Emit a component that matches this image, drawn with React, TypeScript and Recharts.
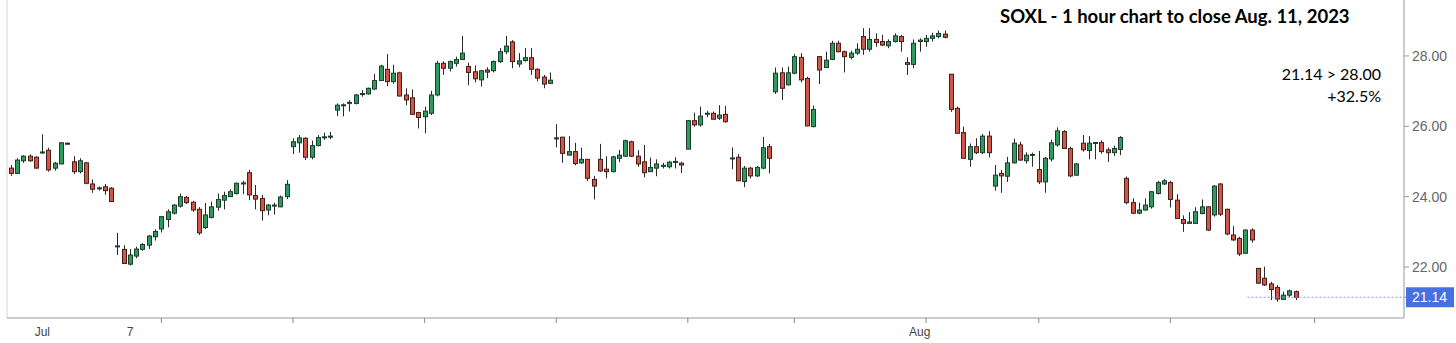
import React from 'react';
import { ComposedChart, Bar, XAxis, YAxis, ReferenceLine } from 'recharts';

// hourly candles, SOXL, end of June to Aug 11 2023
const open = [
  24.81, 24.66, 25.02, 25.15, 25.12, 25.25, 25.32, 24.81, 24.93, 25.52,
  24.99, 24.71, 24.96, 24.36, 24.23, 24.28, 24.24, 22.58, 22.5, 22.08,
  22.31, 22.5, 22.62, 22.86, 23.08, 23.35, 23.53, 23.73, 23.98, 23.84,
  23.64, 23.12, 23.41, 23.7, 23.9, 24.0, 24.09, 24.37, 24.68, 24.03,
  23.95, 23.62, 23.74, 23.71, 24.0, 25.42, 25.53, 25.66, 25.12, 25.45,
  25.68, 25.69, 26.46, 26.6, 26.66, 26.65, 26.91, 26.92, 27.06, 27.3,
  27.62, 27.27, 27.52, 26.89, 26.81, 26.39, 26.27, 26.37, 26.89, 27.79,
  27.65, 27.79, 27.9, 27.7, 27.55, 27.32, 27.6, 27.58, 27.84, 28.12,
  28.4, 27.77, 27.87, 27.95, 27.62, 27.4, 27.22, 25.65, 25.69, 25.18,
  25.28, 24.96, 25.06, 24.49, 25.06, 24.78, 24.71, 25.09, 25.15, 25.56,
  25.15, 24.99, 24.71, 24.81, 24.87, 24.85, 24.99, 24.95, 25.35, 26.16,
  26.04, 26.36, 26.37, 26.23, 26.34, 25.08, 25.12, 24.43, 24.81, 24.59,
  24.81, 25.42, 26.98, 27.52, 27.18, 27.51, 27.96, 27.36, 25.99, 27.98,
  27.67, 27.9, 28.36, 28.12, 27.96, 28.08, 28.55, 28.19, 28.47, 28.41,
  28.29, 28.41, 28.55, 27.81, 27.76, 28.41, 28.41, 28.5, 28.55, 28.62,
  27.48, 26.51, 25.82, 25.06, 25.42, 25.25, 25.72, 24.3, 24.66, 24.58,
  24.96, 25.47, 25.02, 25.19, 24.77, 24.42, 25.07, 25.47, 25.85, 25.37,
  24.61, 25.52, 25.31, 25.52, 25.54, 25.33, 25.25, 25.34, 24.52, 23.83,
  23.53, 23.62, 23.71, 24.09, 24.36, 24.4, 23.9, 23.35, 23.24, 23.24,
  23.52, 23.71, 23.48, 24.36, 23.64, 22.91, 22.81, 22.39, 23.05, 21.96,
  21.68, 21.52, 21.42, 21.08, 21.2, 21.3,
];
const high = [
  24.9, 25.09, 25.18, 25.2, 25.15, 25.77, 25.39, 24.99, 25.55, 25.53,
  25.15, 25.09, 24.99, 24.49, 24.29, 24.36, 24.27, 22.97, 22.62, 22.51,
  22.58, 22.68, 22.91, 23.07, 23.45, 23.64, 23.79, 24.09, 24.02, 23.88,
  23.7, 23.82, 23.86, 24.09, 24.14, 24.21, 24.4, 24.45, 24.76, 24.33,
  24.05, 23.79, 23.83, 24.03, 24.47, 25.66, 25.75, 25.69, 25.59, 25.75,
  25.82, 25.84, 26.65, 26.65, 26.74, 26.92, 27.03, 27.1, 27.49, 27.75,
  28.05, 27.75, 27.55, 27.08, 27.05, 26.41, 26.56, 27.01, 27.86, 27.85,
  27.87, 27.98, 28.57, 27.81, 27.73, 27.6, 27.68, 27.87, 28.22, 28.57,
  28.45, 28.08, 28.22, 28.22, 27.65, 27.46, 27.53, 26.06, 25.7, 25.72,
  25.53, 25.39, 25.06, 24.59, 25.5, 25.15, 25.16, 25.33, 25.62, 25.59,
  25.32, 25.47, 25.11, 25.06, 24.96, 25.02, 25.12, 24.99, 26.18, 26.39,
  26.56, 26.44, 26.42, 26.6, 26.58, 25.4, 25.21, 24.87, 24.85, 24.87,
  25.7, 25.5, 27.67, 27.67, 27.7, 28.05, 28.08, 27.41, 26.59, 28.0,
  28.12, 28.43, 28.43, 28.15, 28.15, 28.36, 28.79, 28.79, 28.64, 28.6,
  28.47, 28.64, 28.6, 27.96, 28.47, 28.5, 28.6, 28.66, 28.72, 28.72,
  27.48, 26.56, 25.99, 25.51, 25.66, 25.78, 25.86, 24.9, 24.76, 25.13,
  25.65, 25.56, 25.26, 25.25, 25.3, 25.13, 25.62, 25.97, 25.89, 25.42,
  24.96, 25.75, 25.72, 25.55, 25.6, 25.4, 25.45, 25.72, 24.57, 23.95,
  23.83, 23.95, 24.16, 24.45, 24.5, 24.45, 24.07, 23.47, 23.56, 23.7,
  23.92, 23.73, 24.33, 24.38, 23.66, 23.16, 22.86, 23.07, 23.1, 21.96,
  22.01, 21.58, 21.49, 21.3, 21.36, 21.33,
];
const low = [
  24.59, 24.64, 24.96, 24.99, 24.8, 25.22, 24.71, 24.74, 24.92, 25.49,
  24.64, 24.66, 24.35, 24.11, 24.17, 24.05, 23.85, 22.34, 22.1, 22.04,
  22.25, 22.46, 22.51, 22.75, 22.98, 23.13, 23.49, 23.69, 23.79, 23.57,
  22.91, 23.08, 23.38, 23.6, 23.64, 23.99, 24.06, 24.07, 23.9, 23.64,
  23.32, 23.47, 23.49, 23.7, 23.93, 25.21, 25.25, 25.04, 25.06, 25.43,
  25.61, 25.63, 26.29, 26.28, 26.42, 26.62, 26.84, 26.9, 27.03, 27.29,
  27.14, 27.21, 26.85, 26.6, 26.33, 25.94, 25.8, 26.32, 26.85, 27.46,
  27.56, 27.7, 27.88, 27.17, 27.25, 27.13, 27.37, 27.53, 27.8, 28.05,
  27.65, 27.68, 27.84, 27.46, 27.28, 27.08, 27.2, 25.4, 24.96, 25.18,
  24.89, 24.93, 24.44, 23.92, 24.71, 24.52, 24.69, 24.98, 25.13, 25.13,
  24.85, 24.55, 24.7, 24.58, 24.8, 24.8, 24.8, 24.67, 25.35, 25.99,
  25.99, 26.26, 26.2, 26.18, 26.1, 24.78, 24.45, 24.27, 24.52, 24.56,
  24.78, 24.66, 26.92, 26.75, 27.16, 27.48, 27.25, 26.0, 25.97, 27.2,
  27.66, 27.88, 28.1, 27.53, 27.9, 28.03, 28.03, 28.12, 28.26, 28.28,
  28.22, 28.38, 28.12, 27.46, 27.65, 28.12, 28.26, 28.41, 28.5, 28.5,
  26.41, 25.8, 25.09, 24.85, 25.21, 25.21, 25.12, 24.17, 24.11, 24.42,
  24.94, 25.02, 24.94, 24.85, 24.36, 24.11, 25.0, 25.42, 25.37, 24.55,
  24.6, 25.28, 25.06, 25.06, 25.22, 24.99, 25.15, 25.18, 23.78, 23.5,
  23.5, 23.6, 23.66, 24.06, 24.33, 23.69, 23.36, 23.0, 23.24, 23.22,
  23.5, 23.02, 23.43, 23.45, 22.9, 22.74, 22.31, 22.39, 22.69, 21.52,
  21.46, 21.06, 21.01, 21.06, 21.14, 21.06,
];
const close = [
  24.66, 25.04, 25.15, 25.02, 24.81, 25.27, 24.76, 24.95, 25.53, 25.49,
  24.71, 25.02, 24.38, 24.21, 24.25, 24.17, 23.86, 22.6, 22.1, 22.34,
  22.51, 22.64, 22.88, 23.01, 23.43, 23.57, 23.76, 24.0, 23.83, 23.62,
  22.97, 23.48, 23.71, 23.92, 24.03, 24.14, 24.38, 24.39, 24.05, 23.93,
  23.6, 23.76, 23.76, 23.99, 24.35, 25.56, 25.67, 25.12, 25.45, 25.68,
  25.7, 25.72, 26.6, 26.61, 26.68, 26.89, 26.93, 27.08, 27.3, 27.71,
  27.27, 27.51, 26.86, 26.75, 26.34, 26.25, 26.43, 26.89, 27.79, 27.65,
  27.84, 27.9, 28.08, 27.53, 27.35, 27.58, 27.54, 27.84, 28.12, 28.28,
  27.84, 27.86, 27.95, 27.62, 27.37, 27.2, 27.31, 25.67, 25.23, 25.28,
  24.94, 25.06, 24.52, 24.3, 24.73, 24.71, 25.13, 25.18, 25.59, 25.15,
  24.93, 24.68, 24.83, 24.93, 24.89, 24.98, 25.0, 24.9, 26.16, 26.04,
  26.29, 26.37, 26.2, 26.32, 26.13, 25.1, 24.45, 24.81, 24.59, 24.83,
  25.39, 25.09, 27.51, 27.08, 27.52, 27.98, 27.32, 26.01, 26.48, 27.6,
  27.88, 28.36, 28.12, 27.98, 28.08, 28.19, 28.19, 28.47, 28.38, 28.31,
  28.41, 28.57, 28.41, 27.76, 28.36, 28.45, 28.5, 28.57, 28.64, 28.53,
  26.48, 25.8, 25.09, 25.42, 25.25, 25.72, 25.25, 24.61, 24.59, 24.96,
  25.52, 25.04, 25.18, 25.2, 24.42, 25.09, 25.53, 25.87, 25.37, 24.59,
  24.93, 25.33, 25.52, 25.54, 25.28, 25.25, 25.37, 25.68, 23.83, 23.53,
  23.62, 23.76, 24.14, 24.4, 24.45, 23.92, 23.38, 23.24, 23.28, 23.57,
  23.71, 23.05, 24.3, 23.5, 22.94, 22.77, 22.37, 23.05, 22.77, 21.54,
  21.49, 21.36, 21.09, 21.2, 21.32, 21.14,
];

const yTicks = [22, 24, 26, 28];
const lastPrice = 21.14;
const target = 28.0;

// candle index of x tick marks, and of the date labels
const tickMarks = [24, 45, 66, 87, 108, 125, 146, 164, 185, 208];
const labelIdx = [5, 19, 145];
const labelText = ['Jul', '7', 'Aug'];

const rows = open.map((o, i) => ({
  i,
  o,
  h: high[i],
  l: low[i],
  c: close[i],
  range: [low[i], high[i]],
}));

const Candle = (props: any) => {
  const { x, y, width, height, payload } = props;
  const { o, h, l, c } = payload;
  const top = Math.min(y, y + height);
  const span = Math.abs(height);
  const k = h > l ? span / (h - l) : 0;
  const up = c >= o;
  const bodyTop = top + (h - Math.max(o, c)) * k;
  const bodyH = Math.max(1, Math.abs(o - c) * k);
  const cx = Math.round(x + width / 2) + 0.5;
  return (
    <g>
      <line x1={cx} x2={cx} y1={top} y2={top + span} stroke="#2a2a2a" strokeWidth={1} />
      <rect
        x={cx - 2}
        y={bodyTop}
        width={4}
        height={bodyH}
        fill={up ? '#2f9a5e' : '#cf5749'}
        stroke={up ? '#1c3d2b' : '#4a1c18'}
        strokeWidth={1}
      />
    </g>
  );
};

const XTick = (props: any) => {
  const { x, y, payload } = props;
  const v = payload.value;
  const li = labelIdx.indexOf(v);
  return (
    <g>
      {tickMarks.includes(v) && <line x1={x} x2={x} y1={y} y2={y + 5} stroke="#888" />}
      {li >= 0 && (
        <text x={x} y={y + 18} textAnchor="middle" fontSize={12} fontFamily="Arial, Liberation Sans" fill="#444">
          {labelText[li]}
        </text>
      )}
    </g>
  );
};

const YTick = (props: any) => {
  const { x, y, payload } = props;
  const v = payload.value;
  if (v === lastPrice) {
    return (
      <g>
        <rect x={x - 5} y={y - 10} width={48} height={20} fill="#4672e0" />
        <text x={x + 1} y={y + 5} fontSize={14} fontFamily="Arial, Liberation Sans" fill="#fff">
          {v.toFixed(2)}
        </text>
      </g>
    );
  }
  return (
    <text x={x + 1} y={y + 5} fontSize={14} fontFamily="Arial, Liberation Sans" fill="#666">
      {v.toFixed(2)}
    </text>
  );
};

export default function App() {
  const pct = ((target / lastPrice - 1) * 100).toFixed(1);
  return (
    <div style={{ position: 'absolute', left: 0, top: 0, width: 1456, height: 343, background: '#fff' }}>
      <ComposedChart width={1456} height={343} data={rows} margin={{ top: 0, right: 0, bottom: 0, left: 7 }}>
        <XAxis
          type="number"
          dataKey="i"
          domain={[-0.64, 222.27]}
          ticks={[...tickMarks, ...labelIdx].sort((a, b) => a - b)}
          interval={0}
          tick={<XTick />}
          tickLine={false}
          tickSize={0}
          tickMargin={0}
          axisLine={{ stroke: '#999' }}
          height={25}
          allowDataOverflow
        />
        <YAxis
          orientation="right"
          type="number"
          domain={[20.55, 29.59]}
          ticks={[...yTicks, lastPrice]}
          interval={0}
          tick={<YTick />}
          width={52}
          tickSize={5}
          tickLine={{ stroke: '#999' }}
          axisLine={{ stroke: '#999' }}
          allowDataOverflow
        />
        <ReferenceLine x={-0.64} stroke="#d4d4d4" />
        <ReferenceLine
          segment={[{ x: 197.3, y: lastPrice }, { x: 222.27, y: lastPrice }]}
          stroke="#8596de"
          strokeDasharray="2 2"
        />
        <Bar dataKey="range" shape={<Candle />} barSize={4} isAnimationActive={false} />
      </ComposedChart>
      <div
        style={{
          position: 'absolute',
          left: 1000,
          top: 5,
          fontFamily: 'Lato, sans-serif',
          fontWeight: 700,
          fontSize: 18.5,
          color: '#000',
          whiteSpace: 'nowrap',
        }}
      >
        SOXL - 1 hour chart to close Aug. 11, 2023
      </div>
      <div
        style={{
          position: 'absolute',
          right: 1456 - 1381,
          top: 63,
          fontFamily: 'Lato, sans-serif',
          fontSize: 16,
          lineHeight: '22px',
          color: '#000',
          textAlign: 'right',
          whiteSpace: 'nowrap',
        }}
      >
        {lastPrice.toFixed(2)} &gt; {target.toFixed(2)}
        <br />+{pct}%
      </div>
    </div>
  );
}
